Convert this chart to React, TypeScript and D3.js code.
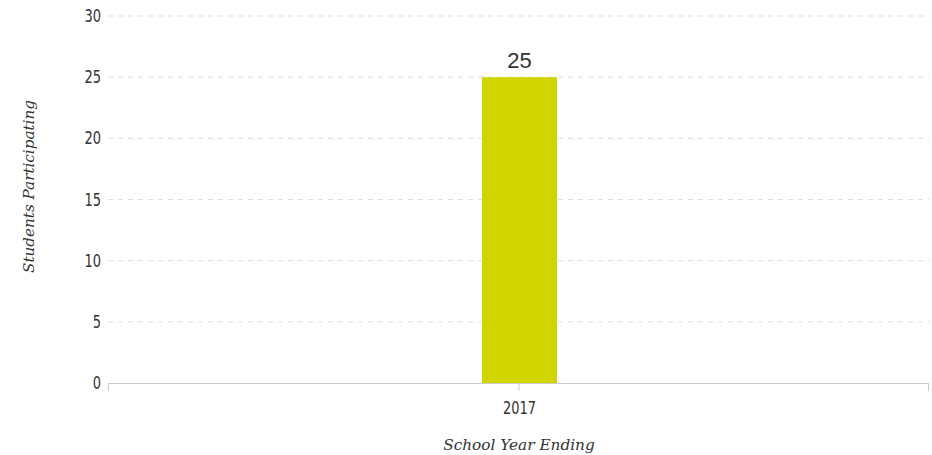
import React from "react";
import * as d3 from "d3";

const categories = ["2017"];
const values = [25];
const yTicks = [0, 5, 10, 15, 20, 25, 30];

const W = 932, H = 455;
const M = { left: 108, right: 3, top: 16, bottom: 72 };

export default function App() {
  const x = d3.scaleBand().domain(categories).range([M.left, W - M.right]).paddingInner(0).paddingOuter(0);
  const y = d3.scaleLinear().domain([0, 30]).range([H - M.bottom, M.top]);
  const bw = 75;
  const tickFont = "'DejaVu Sans Condensed', 'DejaVu Sans', sans-serif";
  return (
    <svg width={W} height={H} style={{ position: "absolute", left: 0, top: 0, background: "#fff" }}>
      {yTicks.map((t) => (
        <g key={t}>
          {t > 0 && (
            <line x1={M.left} x2={W - M.right} y1={y(t)} y2={y(t)} stroke="#dddddd" strokeWidth={1} strokeDasharray="5,5" />
          )}
          <text x={101} y={y(t)} dy="0.36em" textAnchor="end" fontFamily={tickFont} fontStretch="condensed" fontSize={17} fill="#333"
            transform={`translate(101,0) scale(0.85,1) translate(-101,0)`}>
            {t}
          </text>
        </g>
      ))}
      {categories.map((c, i) => {
        const cx = (x(c) as number) + x.bandwidth() / 2 + 1;
        return (
          <g key={c}>
            <rect x={cx - bw / 2} y={y(values[i])} width={bw} height={y(0) - y(values[i])} fill="#d0d400" />
            <text x={cx} y={y(values[i]) - 9} textAnchor="middle" fontFamily="'Liberation Sans', Arial, sans-serif" fontSize={22} fill="#333">
              {values[i]}
            </text>
            <line x1={cx - 0.5} x2={cx - 0.5} y1={y(0)} y2={y(0) + 8} stroke="#cccccc" />
            <text x={cx} y={y(0) + 31} textAnchor="middle" fontFamily={tickFont} fontStretch="condensed" fontSize={17} fill="#333"
              transform={`translate(${cx},0) scale(0.85,1) translate(${-cx},0)`}>
              {c}
            </text>
          </g>
        );
      })}
      <line x1={M.left} x2={W - M.right} y1={y(0) + 0.5} y2={y(0) + 0.5} stroke="#cccccc" />
      <line x1={M.left + 0.5} x2={M.left + 0.5} y1={y(0)} y2={y(0) + 8} stroke="#cccccc" />
      <line x1={W - M.right - 0.5} x2={W - M.right - 0.5} y1={y(0)} y2={y(0) + 8} stroke="#cccccc" />
      <text x={519} y={450} textAnchor="middle" fontFamily="'DejaVu Serif', Georgia, serif" fontStyle="italic" fontSize={15.3} fill="#333">
        School Year Ending
      </text>
      <text transform={`translate(34,186.5) rotate(-90)`} textAnchor="middle" fontFamily="'DejaVu Serif', Georgia, serif" fontStyle="italic" fontSize={15.2} fill="#333">
        Students Participating
      </text>
    </svg>
  );
}
